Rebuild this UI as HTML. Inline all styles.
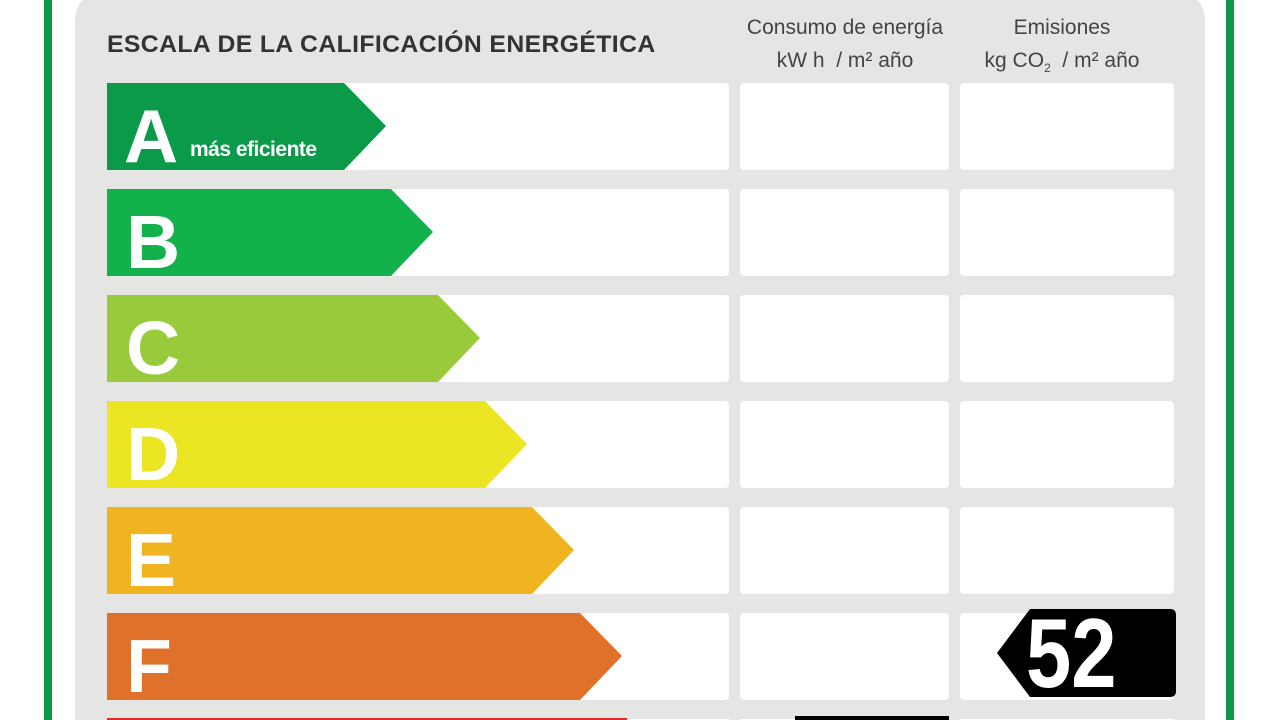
<!DOCTYPE html><html style="overflow:hidden"><head><style>
html,body{margin:0;width:1280px;height:720px;overflow:hidden}
body{background:#fff;font-family:"Liberation Sans",sans-serif;position:relative}
.a{position:absolute}
.L{position:absolute;color:#fff;font-weight:bold;font-size:75px;line-height:1}
</style></head><body>
<div class="a" style="left:44px;top:0;width:8px;height:720px;background:#0a9a4a"></div>
<div class="a" style="left:1226px;top:0;width:8px;height:720px;background:#0a9a4a"></div>
<div class="a" style="left:75px;top:-10px;width:1130px;height:730px;background:#e5e5e3;border-radius:30px 30px 0 0"></div>
<div class="a" style="left:107px;top:31px;font-size:24px;font-weight:bold;color:#333;letter-spacing:0.4px;transform:scaleX(1.03);transform-origin:left">ESCALA DE LA CALIFICACIÓN ENERGÉTICA</div>
<div class="a" style="left:730px;top:11px;width:230px;text-align:center;font-size:21px;color:#444;line-height:33px">Consumo de energía<br>kW h&nbsp; / m² año</div>
<div class="a" style="left:960px;top:11px;width:204px;text-align:center;font-size:21px;color:#444;line-height:33px">Emisiones<br>kg CO<sub style="font-size:12px">2</sub>&nbsp; / m² año</div>
<svg class="a" style="left:0;top:0;overflow:hidden" width="1280" height="720">
<g fill="#fff">
<rect x="107" y="83" width="622" height="87" rx="4"/><rect x="740" y="83" width="209" height="87" rx="4"/><rect x="960" y="83" width="214" height="87" rx="4"/>
<rect x="107" y="189" width="622" height="87" rx="4"/><rect x="740" y="189" width="209" height="87" rx="4"/><rect x="960" y="189" width="214" height="87" rx="4"/>
<rect x="107" y="295" width="622" height="87" rx="4"/><rect x="740" y="295" width="209" height="87" rx="4"/><rect x="960" y="295" width="214" height="87" rx="4"/>
<rect x="107" y="401" width="622" height="87" rx="4"/><rect x="740" y="401" width="209" height="87" rx="4"/><rect x="960" y="401" width="214" height="87" rx="4"/>
<rect x="107" y="507" width="622" height="87" rx="4"/><rect x="740" y="507" width="209" height="87" rx="4"/><rect x="960" y="507" width="214" height="87" rx="4"/>
<rect x="107" y="613" width="622" height="87" rx="4"/><rect x="740" y="613" width="209" height="87" rx="4"/><rect x="960" y="613" width="214" height="87" rx="4"/>
<rect x="107" y="719" width="622" height="1"/><rect x="740" y="719" width="209" height="1"/><rect x="960" y="719" width="214" height="1"/>
</g>
<polygon points="107,83 344,83 386,126 344,170 107,170" fill="#0a9a4a"/>
<polygon points="107,189 391,189 433,232 391,276 107,276" fill="#13b14b"/>
<polygon points="107,295 438,295 480,338 438,382 107,382" fill="#99ca3c"/>
<polygon points="107,401 485,401 527,444 485,488 107,488" fill="#ebe523"/>
<polygon points="107,507 532,507 574,550 532,594 107,594" fill="#efb41f"/>
<polygon points="107,613 580,613 622,656 580,700 107,700" fill="#e0712a"/>
<rect x="107" y="718" width="520" height="2" fill="#e2272a"/>
<path d="M1030,609 H1170 Q1176,609 1176,615 V691 Q1176,697 1170,697 H1030 L997,653 Z" fill="#000"/>
<rect x="795" y="716" width="154" height="4" fill="#000"/>
</svg>
<div class="L" style="left:124px;top:99px">A</div>
<div class="a" style="left:190px;top:138px;color:#fff;font-weight:bold;font-size:21px;letter-spacing:-0.5px">más eficiente</div>
<div class="L" style="left:126px;top:205px">B</div>
<div class="L" style="left:126px;top:311px">C</div>
<div class="L" style="left:126px;top:417px">D</div>
<div class="L" style="left:126px;top:523px">E</div>
<div class="L" style="left:126px;top:629px">F</div>
<div class="a" style="left:1026px;top:604px;color:#fff;font-weight:bold;font-size:98px;line-height:98px;transform:scaleX(0.83);transform-origin:left">52</div>
</body></html>
